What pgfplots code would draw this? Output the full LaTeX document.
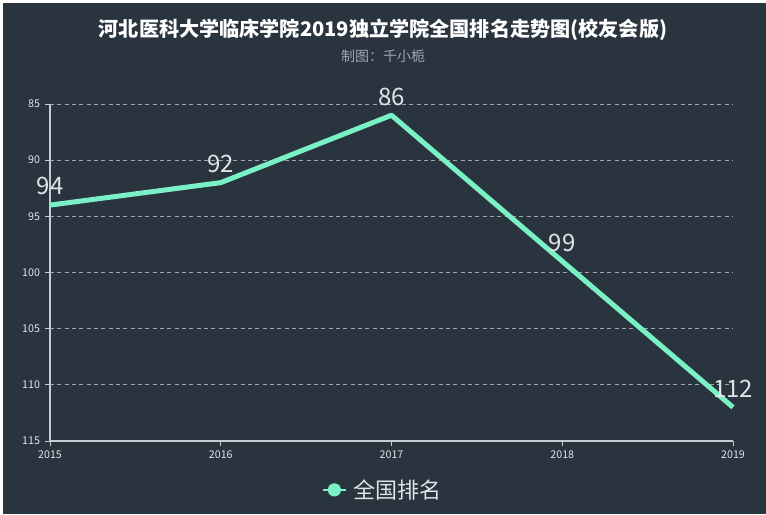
\documentclass[border=0pt]{standalone}
\usepackage{pgfplots}
\pgfplotsset{compat=1.18}
\usepackage{fontspec}
\setmainfont{Noto Sans CJK SC}
\definecolor{bg}{RGB}{41,52,63}
\definecolor{mint}{RGB}{122,240,197}
\definecolor{gridc}{RGB}{160,166,172}
\definecolor{axc}{RGB}{200,204,208}
\definecolor{tickc}{RGB}{225,228,230}
\begin{document}
\begin{tikzpicture}
\fill[white] (0pt,0pt) rectangle (574.5pt,385.5pt);
\fill[bg] (2.25pt,0pt) rectangle (574.5pt,383.25pt);
\useasboundingbox (0pt,0pt) rectangle (574.5pt,385.5pt);
\node[text=white, font=\bfseries\fontsize{15.1}{18}\selectfont] at (287.25pt,363pt) {河北医科大学临床学院2019独立学院全国排名走势图(校友会版)};
\node[text=gridc, font=\fontsize{10.5}{12}\selectfont] at (287.25pt,343.5pt) {制图：千小栀};
\begin{axis}[
  at={(37.5pt,307.5pt)}, anchor=north west,
  scale only axis, width=512.25pt, height=252.75pt,
  xmin=2015, xmax=2019, ymin=85, ymax=115,
  y dir=reverse,
  xtick={2015,2016,2017,2018,2019},
  ytick={85,90,95,100,105,110,115},
  xticklabel style={/pgf/number format/1000 sep={}},
  /pgf/number format/assume math mode=true,
  tick label style={text=tickc, font=\fontsize{8}{9}\selectfont},
  axis line style={draw=none},
  ymajorgrids, grid style={gridc, dash pattern=on 3pt off 2.5pt, line width=0.6pt},
  major tick length=4pt,
  tick style={axc, line width=0.7pt},
  xtick pos=left, ytick pos=left,
  tick align=outside,
  clip=false,
  nodes near coords,
  nodes near coords style={anchor=center, yshift=14pt, text=tickc, font=\fontsize{18}{20}\selectfont},
  legend style={at={(0.4876,-0.145)}, anchor=center, draw=none, fill=none, text=tickc, font=\fontsize{16.5}{18}\selectfont,
    /tikz/every odd column/.append style={column sep=3pt}},
  legend image code/.code={\draw[mint, line width=1.2pt] (0pt,0pt)--(17pt,0pt); \fill[mint] (8.5pt,0pt) circle (3.2pt);},
]
\draw[axc, line width=0.8pt] (axis cs:2015,85) -- (axis cs:2015,115);
\draw[axc, line width=0.8pt] (axis cs:2015,115) -- (axis cs:2019,115);
\addplot[mint, line width=3.75pt, line join=round] coordinates {(2015,94) (2016,92) (2017,86) (2018,99) (2019,112)};
\addlegendentry{全国排名}
\end{axis}
\end{tikzpicture}
\end{document}
